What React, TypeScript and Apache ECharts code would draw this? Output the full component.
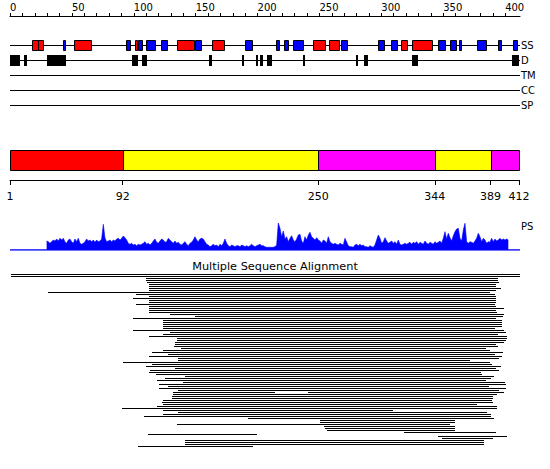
import React, { useEffect, useRef } from "react";
import * as echarts from "echarts";

const SEQ_LEN = 412;
const rulerTicks = [0, 10, 20, 30, 40, 50, 60, 70, 80, 90, 100, 110, 120, 130, 140, 150, 160, 170, 180, 190, 200, 210, 220, 230, 240, 250, 260, 270, 280, 290, 300, 310, 320, 330, 340, 350, 360, 370, 380, 390, 400];
const rulerLabels = [0, 50, 100, 150, 200, 250, 300, 350, 400];
const trackNames = ["SS", "D", "TM", "CC", "SP"];

// secondary structure: helices (red) and strands (blue), residue ranges
const helices = [[18, 23], [23, 27], [52, 66], [101, 103], [135, 149], [163, 173], [245, 255], [258, 266], [316, 321], [325, 341]];
const strands = [[43, 45], [94, 97.5], [103, 106.5], [110, 117], [122, 127], [149.5, 154], [190, 196], [215, 217.5], [221, 224], [229, 237], [267.5, 272], [297.5, 302], [308, 313], [346, 352], [355.5, 360], [363, 364.5], [377.5, 385], [394.5, 397], [406.5, 410]];
// disorder
const disorder = [[0, 8], [11.3, 13.5], [30, 45], [98.5, 103.4], [106.4, 110.7], [160.8, 163.2], [187.4, 188.8], [198.7, 200.6], [202.2, 204.4], [207.4, 211.6], [237, 238.3], [279.3, 280.9], [286, 289], [324.7, 329.3], [405.5, 411.5]];

// domains
const domainBounds = [1, 92, 250, 344, 389, 412];
const domainKinds = ["A", "B", "C", "B", "C"];
const domainColors: Record<string, string> = { A: "#ff0000", B: "#ffff00", C: "#ff00ff" };

// PS profile
const psStartRes = 29.6;
const psStepRes = 1.3464;
const psValues = [
  9, 8.3, 6.7, 8.3, 10, 9, 11, 9, 11.7, 10, 11.7, 8.3, 6.7, 10, 11, 8.3, 6.7, 11, 8.3, 11.7,
  6.7, 5.7, 6.7, 8.3, 11, 9, 10, 8.3, 10, 7.7, 10, 8.3, 9, 11, 25.7, 12, 8.3, 9, 10, 8.3,
  10, 9, 11, 11.7, 10, 11.7, 14, 12.3, 10, 6.7, 5.7, 6.7, 5, 5.7, 4.3, 5.7, 5, 5.7, 6.7, 8.3,
  5.7, 6.7, 5, 6.7, 9, 11, 7.7, 6.7, 9, 11, 10, 7.7, 8.3, 11.7, 10, 8.3, 6.7, 9, 6.7, 7.7,
  5.7, 5, 6.7, 8.3, 5.7, 4.3, 6.7, 7.7, 10, 13.3, 10, 8.3, 11, 11.7, 11, 8.3, 5.7, 5, 3.3, 4.3,
  5.7, 4.3, 5, 3.3, 5.7, 4.3, 6.7, 11, 6.7, 4.3, 3.3, 5, 4.3, 3.3, 4.3, 4.3, 3.3, 5, 4.3, 3.3,
  4.3, 3.3, 4.3, 5.7, 4.3, 3.3, 4.3, 5, 5.7, 4.3, 4.3, 3.3, 2.7, 2.7, 2.7, 2.7, 2.7, 3.3, 5, 27,
  21.7, 13.3, 19, 11, 13.3, 8.3, 11.7, 14.3, 10, 8.3, 11, 15, 15.7, 9, 6.7, 13.3, 10, 15, 17.7, 13.3,
  11.7, 10, 12.3, 10, 9, 6.7, 10, 9, 6.7, 13.3, 8.3, 6.7, 5.7, 6.7, 5.7, 5, 6.7, 5.7, 5, 11.7,
  8, 4.3, 3.3, 3.3, 2.7, 5, 5.7, 4.3, 5.7, 4.3, 5, 3.3, 3.3, 2.7, 4.3, 3.3, 2.7, 5, 10, 15,
  11.7, 6.7, 8.3, 12.3, 9, 6.7, 7.7, 9, 6.7, 8.3, 5.7, 10, 5.7, 5, 5.7, 6.7, 5.7, 6.7, 7.7, 5.7,
  7.7, 6.7, 8.3, 5.7, 7.7, 6.7, 5.7, 9, 6.7, 5.7, 7.7, 6.7, 5.7, 8.3, 6.7, 7.7, 9, 6.7, 11.7, 18.3,
  11, 16.7, 12.3, 9, 14.3, 18.3, 21, 21.7, 11.7, 9, 20, 26.7, 8.3, 6.7, 8.3, 7.7, 6.7, 9, 11.7, 16.7,
  13.3, 8.3, 11.7, 10, 6.7, 8.3, 7.7, 11.7, 8.3, 11, 9, 10, 11.7, 10, 11, 10, 11, 10
];

// multiple sequence alignment: each row is a list of [start, end] residue segments
const msaRows: number[][][] = [
  [[1, 412]], [[1, 412]], [[110, 394.5]], [[110, 394.5]], [[111, 395]],
  [[112, 392]], [[112, 392]], [[112, 396.5]], [[112, 392]], [[31, 388]],
  [[102, 392]], [[112, 392]], [[99, 392]], [[112, 392]], [[112, 392]],
  [[102, 392]], [[112, 392]], [[112, 398.5]], [[112, 392]], [[112, 393]],
  [[129, 398.5]], [[149.5, 398.5]], [[99.5, 392.5]], [[124, 398]], [[124, 398]],
  [[124, 398]], [[124, 398]], [[124, 392]], [[99, 398.5]], [[129, 400.5]],
  [[124, 394.5]], [[112, 401.5]], [[135, 401.5]], [[135, 400.5]], [[133, 399]],
  [[133, 392]], [[132.5, 394.5]], [[138.5, 384.5]], [[124, 388]], [[114.5, 398]],
  [[128, 392]], [[112.5, 398]], [[135.5, 394.5]], [[136, 372]], [[91.5, 388]],
  [[114.5, 389]], [[110, 396.5]], [[133, 392]], [[113, 395]], [[112.5, 381]],
  [[118, 381]], [[141.5, 391]], [[125, 388]], [[118.5, 384.5]], [[140, 400.5]],
  [[120, 400.5]], [[128, 387.5]], [[120, 400.5]], [[136, 395.5]], [[131.5, 214], [240.5, 398.5]],
  [[131.5, 393]], [[130.5, 390]], [[130.5, 390]], [[124, 390]], [[122.5, 390]],
  [[124, 377.5]], [[119, 393.5]], [[90.5, 393.5]], [[124, 310]], [[136, 385.5]],
  [[124, 389]], [[108.5, 389]], [[192.5, 391]], [[250.5, 359.5]], [[250.5, 359.5]],
  [[135, 355.5]], [[253.5, 359.5]], [[254.5, 359.5]], [[256, 359.5]], [[318.5, 392.5]],
  [[111.5, 199.5]], [[345.5, 401.5]], [[349, 390]], [[141.5, 383]], [[141.5, 383]],
  [[141.5, 383]], [[103.5, 196.5]]
];

const FONT = "DejaVu Sans";

export default function App() {
  const ref = useRef<HTMLDivElement>(null);
  useEffect(() => {
    if (!ref.current) return;
    const chart = echarts.init(ref.current, null, { renderer: "svg" });

    const ssData: any[] = [];
    helices.forEach(([s, e]) => ssData.push([s, 0, e, "H"]));
    strands.forEach(([s, e]) => ssData.push([s, 0, e, "E"]));
    const dData: any[] = disorder.map(([s, e]) => [s, 1, e, "D"]);
    const msaData: any[] = [];
    msaRows.forEach((segs, i) => segs.forEach(([s, e]) => msaData.push([s, i, e])));
    const domData = domainKinds.map((k, i) => [domainBounds[i], 0, domainBounds[i + 1], k]);
    const psData = psValues.map((v, i) => [psStartRes + i * psStepRes, v]);

    const snap = (v: number) => Math.round(v) + 0.5;

    const hiddenY = (gridIndex: number, min: number, max: number, inverse = false) => ({
      type: "value", gridIndex, min, max, inverse, show: false,
    });
    const hiddenX = (gridIndex: number, min: number, max: number) => ({
      type: "value", gridIndex, min, max, show: false,
    });

    chart.setOption({
      animation: false,
      textStyle: { fontFamily: FONT },
      grid: [
        { left: 10, width: 510, top: 16, height: 10 },
        { left: 10, width: 510, top: 37.5, height: 75 },
        { left: 10, width: 509, top: 150, height: 30 },
        { left: 10, width: 510, top: 220, height: 30 },
        { left: 10, width: 510, top: 274, height: 174 },
      ],
      xAxis: [
        {
          type: "value", gridIndex: 0, min: 0, max: SEQ_LEN, position: "top",
          axisLine: { show: true, onZero: false, lineStyle: { color: "#000", width: 1 } },
          axisTick: { show: true, customValues: rulerTicks, length: 3, inside: false, lineStyle: { color: "#000" } },
          axisLabel: { show: true, customValues: rulerLabels, align: "left", margin: 4, fontSize: 10, color: "#000", fontFamily: FONT },
          splitLine: { show: false },
        },
        hiddenX(1, 0, SEQ_LEN),
        {
          type: "value", gridIndex: 2, min: 1, max: SEQ_LEN, position: "bottom",
          axisLine: { show: true, onZero: false, lineStyle: { color: "#000", width: 1 } },
          axisTick: { show: true, customValues: domainBounds, length: 5, inside: false, lineStyle: { color: "#000" } },
          axisLabel: { show: true, customValues: domainBounds, margin: 11, fontSize: 11, color: "#000", fontFamily: FONT },
          splitLine: { show: false },
        },
        hiddenX(3, 0, SEQ_LEN),
        hiddenX(4, 0, SEQ_LEN),
      ],
      yAxis: [
        hiddenY(0, 0, 1),
        {
          type: "category", gridIndex: 1, data: trackNames, inverse: true, position: "right",
          axisLine: { show: false }, axisTick: { show: false }, splitLine: { show: false },
          axisLabel: { show: true, margin: 1, fontSize: 10, color: "#000", fontFamily: FONT, align: "left" },
        },
        hiddenY(2, 0, 3, true),
        hiddenY(3, 0, 30),
        hiddenY(4, 0, 87, true),
      ],
      series: [
        {
          type: "custom", xAxisIndex: 1, yAxisIndex: 1, silent: true,
          data: trackNames.map((_, i) => [0, i]),
          renderItem: (params: any, api: any) => {
            const p0 = api.coord([0, api.value(1)]);
            const p1 = api.coord([SEQ_LEN, api.value(1)]);
            const y = Math.floor(p0[1]) + 0.5;
            return { type: "line", shape: { x1: p0[0], y1: y, x2: p1[0], y2: y }, style: { stroke: "#000", lineWidth: 1 } };
          },
          z: 1,
        },
        {
          type: "custom", xAxisIndex: 1, yAxisIndex: 1, silent: true,
          data: [...ssData, ...dData],
          encode: { x: [0, 2], y: 1 },
          renderItem: (params: any, api: any) => {
            const kind = api.value(3);
            const p0 = api.coord([api.value(0), api.value(1)]);
            const p1 = api.coord([api.value(2), api.value(1)]);
            const cy = Math.floor(p0[1]);
            const x = snap(p0[0]);
            const w = Math.max(1, Math.round(p1[0] - p0[0]));
            if (kind === "D") {
              return { type: "rect", shape: { x: Math.round(p0[0]), y: cy - 5, width: w, height: 11 }, style: { fill: "#000" } };
            }
            return {
              type: "rect",
              shape: { x, y: cy - 4.5, width: w, height: 10 },
              style: { fill: kind === "H" ? "#ff0000" : "#0000ff", stroke: "#000", lineWidth: 1 },
            };
          },
          z: 2,
        },
        {
          type: "custom", xAxisIndex: 2, yAxisIndex: 2, silent: true,
          data: domData,
          encode: { x: [0, 2], y: 1 },
          renderItem: (params: any, api: any) => {
            const p0 = api.coord([api.value(0), 0]);
            const p1 = api.coord([api.value(2), 2]);
            const x = snap(p0[0]);
            const x2 = snap(p1[0]);
            const y = snap(p0[1]);
            const y2 = snap(p1[1]);
            return {
              type: "rect",
              shape: { x, y, width: x2 - x, height: y2 - y },
              style: { fill: domainColors[api.value(3)], stroke: "#000", lineWidth: 1 },
            };
          },
        },
        {
          type: "line", xAxisIndex: 3, yAxisIndex: 3, silent: true,
          data: [[0, 0], [SEQ_LEN, 0]],
          showSymbol: false, symbol: "none",
          lineStyle: { color: "#0000ff", width: 1.5 },
          z: 1,
        },
        {
          type: "line", xAxisIndex: 3, yAxisIndex: 3, silent: true,
          data: psData,
          showSymbol: false, symbol: "none",
          lineStyle: { color: "#0000ff", width: 0.6 },
          areaStyle: { color: "#0000ff", opacity: 1 },
          z: 2,
        },
        {
          type: "custom", xAxisIndex: 4, yAxisIndex: 4, silent: true,
          data: msaData,
          encode: { x: [0, 2], y: 1 },
          renderItem: (params: any, api: any) => {
            const p0 = api.coord([api.value(0), api.value(1)]);
            const p1 = api.coord([api.value(2), api.value(1)]);
            return {
              type: "rect",
              shape: { x: Math.round(p0[0]), y: Math.round(p0[1]), width: Math.round(p1[0] - p0[0]), height: 1 },
              style: { fill: "#000" },
            };
          },
        },
      ],
      graphic: [
        { type: "text", left: 521, top: 221, style: { text: "PS", font: `10px '${FONT}'`, fill: "#000" } },
        { type: "text", x: 275, y: 266, style: { text: "Multiple Sequence Alignment", font: `11.3px '${FONT}'`, fill: "#000", textAlign: "center", textVerticalAlign: "middle" } },
      ],
    });
    return () => chart.dispose();
  }, []);
  return <div ref={ref} style={{ position: "absolute", left: 0, top: 0, width: 550, height: 469, background: "#fff" }} />;
}
